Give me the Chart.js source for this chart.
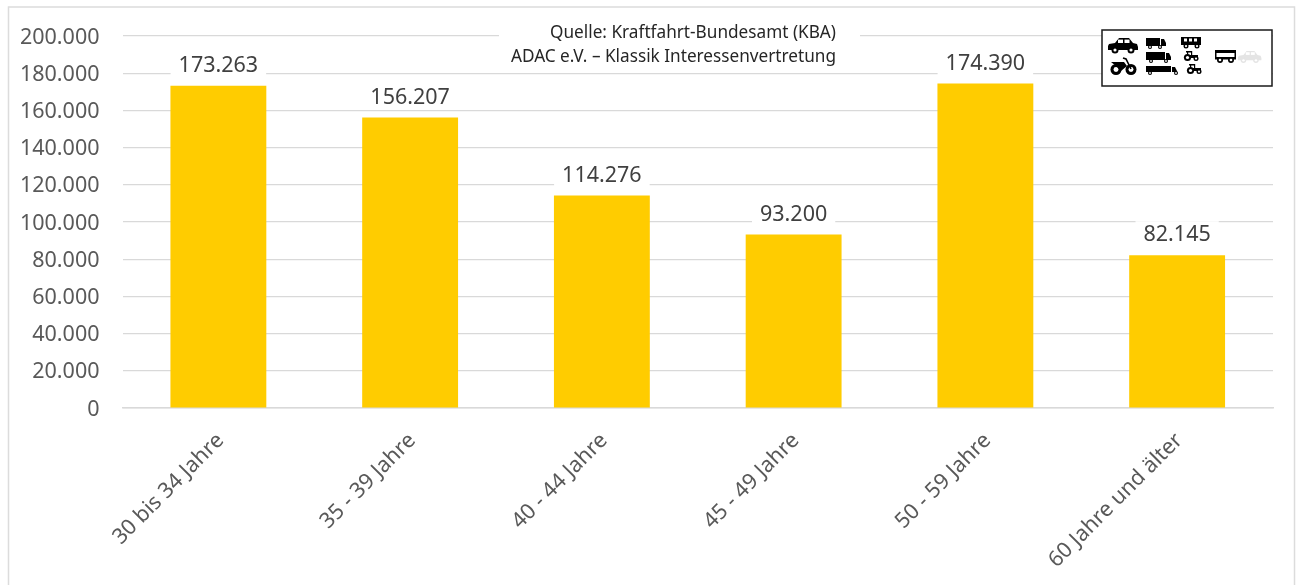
<!DOCTYPE html>
<html><head><meta charset="utf-8">
<style>html,body{margin:0;padding:0;background:#fff}#w{position:absolute;left:0;top:0;width:1298px;height:585px}</style>
<script src="https://cdn.jsdelivr.net/npm/chart.js@4"></script></head>
<body><div id="w"><canvas id="c" width="1298" height="585"></canvas></div>
<script>
const categories=["30 bis 34 Jahre","35 - 39 Jahre","40 - 44 Jahre","45 - 49 Jahre","50 - 59 Jahre","60 Jahre und älter"];
const registrations=[173263,156207,114276,93200,174390,82145];
const sourceLines=["Quelle: Kraftfahrt-Bundesamt (KBA)","ADAC e.V. – Klassik Interessenvertretung"];
const FONT='"Noto Sans"';
const fmt=v=>String(v).replace(/\B(?=(\d{3})+$)/g,'.');

function wheel(g,x,y,r,col){g.fillStyle=col;g.beginPath();g.arc(x,y,r,0,7);g.fill();g.fillStyle='#fff';g.beginPath();g.arc(x,y,r*.45,0,7);g.fill();}
function car(g,x,y,s,col){g.fillStyle=col;g.beginPath();g.moveTo(x,y+8*s);g.lineTo(x+1*s,y+6*s);g.lineTo(x+7*s,y+5*s);g.lineTo(x+11*s,y);g.lineTo(x+21*s,y);g.lineTo(x+25*s,y+5*s);g.lineTo(x+29*s,y+6*s);g.lineTo(x+30*s,y+9*s);g.lineTo(x+30*s,y+12*s);g.lineTo(x,y+12*s);g.closePath();g.fill();
 g.fillStyle='#fff';g.fillRect(x+10*s,y+1.6*s,5*s,3.4*s);g.fillRect(x+16.5*s,y+1.6*s,5*s,3.4*s);
 wheel(g,x+7*s,y+12*s,3.5*s,col);wheel(g,x+23*s,y+12*s,3.5*s,col);}
function moto(g){wheel(g,1116,69.5,5.5,'#000');wheel(g,1131,69.5,5.5,'#000');g.fillStyle='#000';g.beginPath();g.moveTo(1111,62);g.lineTo(1124,62);g.lineTo(1127,66);g.lineTo(1121,71);g.lineTo(1116,66);g.closePath();g.fill();
 g.strokeStyle='#000';g.lineWidth=1.6;g.beginPath();g.moveTo(1131,69);g.lineTo(1126,59);g.lineTo(1123,58);g.stroke();}
function truck(g,x,y,w,h,a,b){g.fillStyle='#000';g.fillRect(x,y,w,h);g.beginPath();g.moveTo(x+w+1,y+1);g.lineTo(x+w+4,y+1);g.lineTo(x+w+6,y+5);g.lineTo(x+w+6,y+h);g.lineTo(x+w+1,y+h);g.closePath();g.fill();wheel(g,a,y+h+1,2,'#000');wheel(g,b,y+h+1,2,'#000');}
function tractor(g,x,y){g.fillStyle='#000';g.fillRect(x+2,y,6,1.5);g.fillRect(x+3,y,1.2,5);g.fillRect(x+7,y,1.2,5);g.fillRect(x+3,y+4,11,3);wheel(g,x+3.5,y+6.5,3.6,'#000');wheel(g,x+12,y+7.5,2.5,'#000');}

const overlay={id:'overlay',
 afterDraw(ch){const g=ch.ctx;g.save();
  // frame
  g.strokeStyle='#dcdcdc';g.lineWidth=1.5;g.strokeRect(8.5,7,1286,590);
  // data labels
  g.font='21.5px '+FONT;g.textAlign='center';g.textBaseline='middle';
  const m=ch.getDatasetMeta(0);
  m.data.forEach((b,i)=>{const t=fmt(registrations[i]);const w=g.measureText(t).width;
   g.fillStyle='#fff';g.fillRect(b.x-w/2-8,b.y-34,w+16,26);
   g.fillStyle='#404040';g.fillText(t,b.x,b.y-20);});
  // source note
  g.fillStyle='#fff';g.fillRect(499,18,361,52);
  g.fillStyle='#262626';g.font='17.2px '+FONT;g.textAlign='right';
  g.fillText(sourceLines[0],836,33);g.fillText(sourceLines[1],836,57);
  // vehicle icon box
  g.fillStyle='#fff';g.fillRect(1102,30,170,56);
  g.strokeStyle='#1a1a1a';g.lineWidth=1.5;g.strokeRect(1102,30,170,56);
  car(g,1108,38,1,'#000');
  moto(g);
  truck(g,1146,38,14,8,1150,1160);truck(g,1146,52,19,8,1151,1166);truck(g,1146,66,25,6,1150,1176);
  g.fillStyle='#000';g.fillRect(1181,37,20,8);g.fillStyle='#fff';[1184,1189,1194].forEach(x=>g.fillRect(x,38.5,3,3));
  wheel(g,1186,46,2.5,'#000');wheel(g,1197,46,2.5,'#000');
  tractor(g,1184,51);tractor(g,1187,64);
  g.fillStyle='#000';g.fillRect(1215,50,21,3);g.fillRect(1215,50,1.5,9);g.fillRect(1234.5,50,1.5,9);g.fillRect(1215,57,21,2.5);
  wheel(g,1220,60,3,'#000');wheel(g,1231,60,3,'#000');
  car(g,1238,51,.78,'#e4e4e4');
  g.restore();}
};

new Chart(document.getElementById('c'),{
 type:'bar',
 data:{labels:categories,datasets:[{data:registrations,backgroundColor:'#FFCC00',categoryPercentage:1,barPercentage:.5}]},
 plugins:[overlay],
 options:{responsive:false,animation:false,devicePixelRatio:1,
  layout:{padding:{left:0,right:25,top:35,bottom:0}},
  plugins:{legend:{display:false},tooltip:{enabled:false},title:{display:false}},
  scales:{
   x:{grid:{display:false,drawTicks:false},border:{color:'#d9d9d9',width:1.5},
      ticks:{color:'#595959',font:{family:FONT,size:21.5},maxRotation:45,minRotation:45,padding:20,labelOffset:2},
      afterFit(s){s.height=177;}},
   y:{min:0,max:200000,grid:{color:'#d9d9d9',lineWidth:1.2,drawTicks:false},border:{display:false},
      ticks:{stepSize:20000,color:'#595959',font:{family:FONT,size:21.5},padding:23,labelOffset:1.5,callback:v=>fmt(v)},
      afterFit(s){s.width=122.5;}}
  }}
});
</script></body></html>
